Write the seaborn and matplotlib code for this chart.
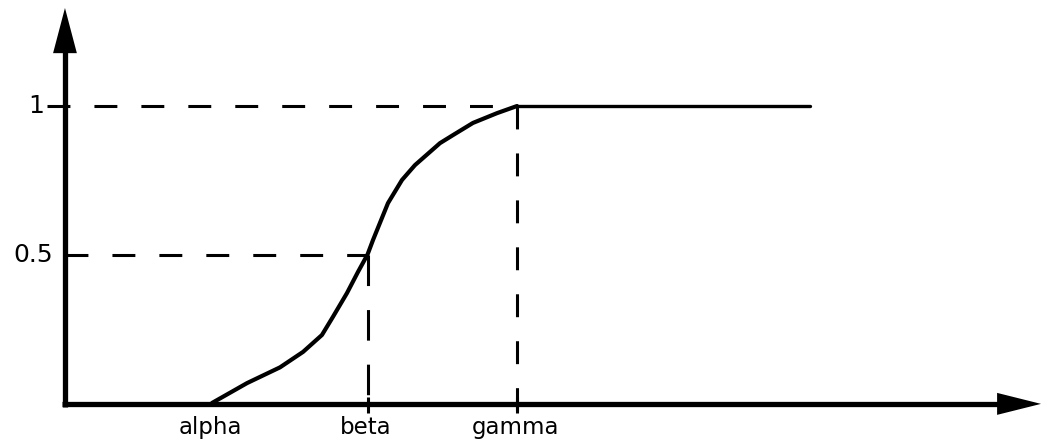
import numpy as np
import pandas as pd
import matplotlib
matplotlib.use("Agg")
import matplotlib.pyplot as plt
import seaborn as sns

# ---- data ----
curve_x = [1.0, 1.23, 1.446, 1.597, 1.721, 1.793, 1.885, 1.957, 2.02,
           2.056, 2.154, 2.246, 2.331, 2.495, 2.58, 2.711, 2.869, 3.0]
curve_y = [0.0, 0.067, 0.12, 0.172, 0.229, 0.29, 0.37, 0.441, 0.5,
           0.549, 0.673, 0.751, 0.801, 0.875, 0.902, 0.943, 0.976, 1.0]
plateau_x = [3.0, 4.92]
plateau_y = [1.0, 1.0]
x_tick_pos = [1.0, 2.02, 3.0]
x_tick_labels = ["alpha", "beta", "gamma"]
y_tick_pos = [1.0, 0.5]
y_tick_labels = ["1", "0.5"]

sns.set_theme(style="white")
plt.rcParams["font.family"] = ["DejaVu Sans"]
plt.rcParams["lines.scale_dashes"] = False

fig = plt.figure(figsize=(10.43, 4.41), dpi=100)
ax = fig.add_axes([0, 0, 1, 1])
ax.set_xlim(-0.390, 6.449)
ax.set_ylim(-0.128, 1.357)
ax.axis("off")

ink = "black"
x_axis_pos = 0.036      # y-axis location (data x)
y_axis_level = -0.003   # x-axis location (data y)

# axes with arrow heads
ax.plot([0.016, 6.20], [y_axis_level, y_axis_level], color=ink, lw=3.8,
        solid_capstyle="butt")
ax.fill([6.148, 6.436, 6.148],
        [y_axis_level + 0.037, y_axis_level, y_axis_level - 0.037], color=ink, lw=0)
ax.plot([x_axis_pos, x_axis_pos], [-0.013, 1.20], color=ink, lw=3.8,
        solid_capstyle="butt")
ax.fill([x_axis_pos - 0.078, x_axis_pos, x_axis_pos + 0.078],
        [1.178, 1.330, 1.178], color=ink, lw=0)

# dashed guide lines
dash = (0, (16.5, 17.3))
ax.plot([-0.082, x_tick_pos[2]], [1.0, 1.0], color=ink, lw=2.2, linestyle=dash,
        dash_capstyle="butt")
ax.plot([x_axis_pos, x_tick_pos[1]], [0.5, 0.5], color=ink, lw=2.2,
        linestyle=dash, dash_capstyle="butt")
ax.plot([x_tick_pos[2], x_tick_pos[2]], [1.0, -0.034], color=ink, lw=2.2,
        linestyle=dash, dash_capstyle="butt")
ax.plot([x_tick_pos[1], x_tick_pos[1]], [0.5, -0.034], color=ink, lw=2.2,
        linestyle=(0, (22, 17.3)), dash_capstyle="butt")
# small ticks below axis
for xp in x_tick_pos[1:]:
    ax.plot([xp, xp], [0.02, -0.034], color=ink, lw=2.2, solid_capstyle="butt")

# curve
df = pd.DataFrame({"x": curve_x, "y": curve_y})
sns.lineplot(data=df, x="x", y="y", ax=ax, color=ink, lw=3.0,
             estimator=None, sort=False)
dfp = pd.DataFrame({"x": plateau_x, "y": plateau_y})
sns.lineplot(data=dfp, x="x", y="y", ax=ax, color=ink, lw=2.4,
             estimator=None, sort=False)

# labels
for xp, lab in zip(x_tick_pos, x_tick_labels):
    ax.text(xp - 0.01, -0.084, lab, ha="center", va="center", fontsize=16.5,
            color=ink)
ax.text(-0.10, 1.0, y_tick_labels[0], ha="right", va="center", fontsize=18,
        color=ink)
ax.text(-0.04, 0.5, y_tick_labels[1], ha="right", va="center", fontsize=18,
        color=ink)

ax.set_xlabel("")
ax.set_ylabel("")
fig.savefig("out.png", dpi=100)
